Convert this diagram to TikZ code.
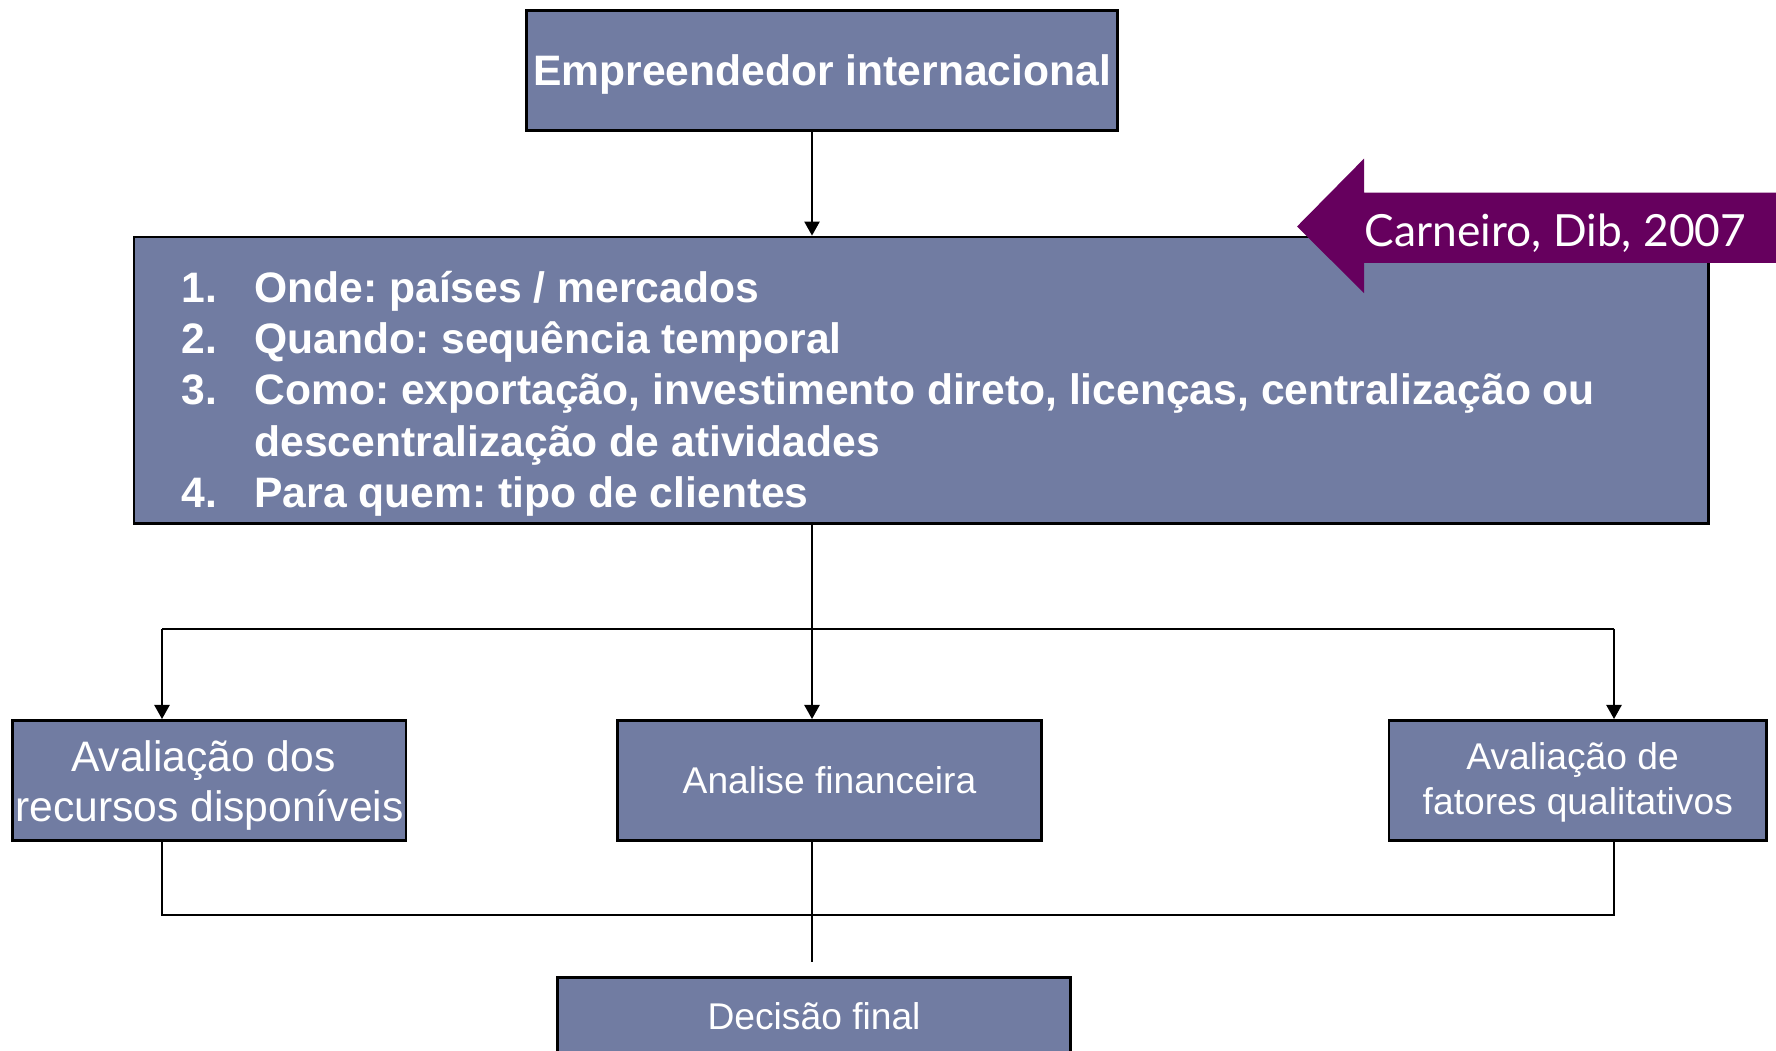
\documentclass[tikz,border=0pt]{standalone}
\usepackage{fontspec}
\setmainfont{Liberation Sans}
\newfontfamily\gillfont{Lato}
\usetikzlibrary{arrows.meta}
\definecolor{boxfill}{RGB}{113,124,162}
\definecolor{purp}{RGB}{102,0,94}
\frenchspacing
\begin{document}
\begin{tikzpicture}[x=0.01cm,y=-0.01cm,
  box/.style={draw=black, line width=0.8pt, fill=boxfill, text=white, inner sep=0pt, anchor=north west, align=center},
  big/.style={font=\fontsize{12.12}{14.6}\selectfont},
  small/.style={font=\fontsize{10.58}{12.8}\selectfont},
  arr/.style={line width=0.6pt, -{Triangle[width=4.3pt,length=4pt]}},
  ln/.style={line width=0.6pt}]
\clip (0,0) rectangle (1776,1050);
\fill[white] (0,0) rectangle (1776,1050);
% boxes
\node (topbox) [box, font=\fontsize{12.12}{14.6}\selectfont\bfseries, text depth=0pt, minimum width=5.91cm, minimum height=1.20cm] at (525,9) {Empreendedor internacional};
\node (main) [box, minimum width=15.733cm, minimum height=2.866cm] at (132.5,235.6) {};
\node (mainlist) [text=white, inner sep=0pt, anchor=base west, font=\fontsize{12.12}{14.6}\selectfont\bfseries] at (181,302)
  {\begin{tabular}[t]{@{}p{0.727cm}@{}l@{}}
   1. & Onde: países / mercados\\
   2. & Quando: sequência temporal\\
   3. & Como: exportação, investimento direto, licenças, centralização ou\\
      & descentralização de atividades\\
   4. & Para quem: tipo de clientes
   \end{tabular}};
\node (boxL) [box, font=\fontsize{12.12}{14.2}\selectfont, minimum width=3.931cm, minimum height=1.20cm] at (11.3,719) {};
\node (boxLtext) [text=white, inner sep=0pt, align=center, font=\fontsize{12.12}{14.2}\selectfont, yshift=-1.3pt] at (boxL.center) {Avaliação dos\hspace*{0.278em}\\recursos disponíveis};
\node (boxM) [box, small, minimum width=4.24cm, minimum height=1.20cm] at (616,719) {Analise financeira};
\node (boxR) [box, small, minimum width=3.774cm, minimum height=1.20cm] at (1387.6,719) {};
\node (boxRtext) [text=white, inner sep=0pt, align=center, small, yshift=-0.5pt] at (boxR.center) {Avaliação de\hspace*{0.278em}\\fatores qualitativos};
\node (dec) [box, small, minimum width=5.13cm, minimum height=0.78cm] at (556,976) {Decisão final};
% citation arrow
\fill[purp] (1297,226.5) -- (1364,158.6) -- (1364,192.6) -- (1776,192.6) -- (1776,262.8) -- (1364,262.8) -- (1364,293) -- cycle;
\node (cite) [text=white, inner sep=0pt, anchor=base, font=\gillfont\fontsize{12.6}{15}\selectfont] at (1555.5,246.4) {Carneiro, Dib, 2007};
% connectors
\coordinate (spine) at (812,628.6);
\coordinate (jl) at (162,628.6);
\coordinate (jr) at (1614,628.6);
\coordinate (bl) at (162,914.7);
\coordinate (br) at (1614,914.7);
\coordinate (mend) at (812,961.5);
\draw[arr] (topbox.south -| spine) -- (main.north -| spine);
\draw[ln] (main.south -| spine) -- (spine);
\draw[ln] (jl) -- (jr);
\draw[arr] (jl) -- (jl |- boxL.north);
\draw[arr] (spine) -- (spine |- boxM.north);
\draw[arr] (jr) -- (jr |- boxR.north);
\draw[ln] (boxL.south -| bl) -- (bl) -- (br) -- (boxR.south -| br);
\draw[ln] (boxM.south -| spine) -- (mend);
\end{tikzpicture}
\end{document}
